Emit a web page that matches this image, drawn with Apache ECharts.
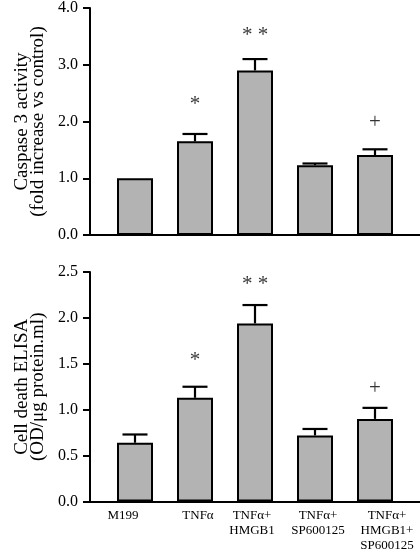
<!DOCTYPE html>
<html>
<head>
<meta charset="utf-8">
<script src="https://cdn.jsdelivr.net/npm/echarts@6/dist/echarts.min.js"></script>
<style>
html,body{margin:0;padding:0;background:#fff;}
#chart{width:420px;height:554px;}
</style>
</head>
<body>
<div id="chart"></div>
<script>
// ---- data ----
const categories = ['M199', 'TNFα', 'TNFα+\nHMGB1', 'TNFα+\nSP600125', 'TNFα+\nHMGB1+\nSP600125'];
const caspaseMean = [1.00, 1.65, 2.90, 1.23, 1.41];
const caspaseErr  = [0.00, 0.13, 0.20, 0.03, 0.10];
const caspaseSig  = ['', '*', '* *', '', '+'];
const caspaseSigY = [null, 2.30, 3.52, null, 1.98];
const elisaMean = [0.64, 1.13, 1.94, 0.72, 0.90];
const elisaErr  = [0.09, 0.12, 0.20, 0.07, 0.12];
const elisaSig  = ['', '*', '* *', '', '+'];
const elisaSigY = [null, 1.54, 2.36, null, 1.23];

const FONT = '"Liberation Serif", "Times New Roman", serif';
const chart = echarts.init(document.getElementById('chart'), null, {renderer: 'canvas'});
const labelPos = [-0.2, 1.05, 1.95, 3.05, 4.2];

function xAxisCfg(gridIndex, showLabels) {
  return {
    type: 'value', gridIndex, min: -0.75, max: 4.75,
    splitLine: {show: false},
    axisTick: {show: false},
    axisLine: {show: true, onZero: false, lineStyle: {color: '#000', width: 2}},
    axisLabel: {
      show: showLabels,
      customValues: labelPos,
      formatter: (v) => {
        const idx = labelPos.indexOf(v);
        return idx >= 0 ? categories[idx] : '';
      },
      fontFamily: FONT, fontSize: 13, color: '#000', lineHeight: 15,
      verticalAlign: 'top', margin: 7
    }
  };
}
function yAxisCfg(gridIndex, max, interval, name) {
  return {
    type: 'value', gridIndex, min: 0, max, interval,
    name, nameLocation: 'middle', nameRotate: 90, nameGap: 44,
    nameTextStyle: {fontFamily: FONT, fontSize: 19, color: '#000', lineHeight: 16},
    splitLine: {show: false},
    axisLine: {show: true, onZero: false, lineStyle: {color: '#000', width: 2}},
    axisTick: {show: true, inside: false, length: 7, lineStyle: {color: '#000', width: 2}},
    axisLabel: {fontFamily: FONT, fontSize: 16, color: '#000', margin: 12,
      formatter: (v) => v.toFixed(1)}
  };
}
function errSeries(xi, yi, means, errs) {
  return {
    type: 'custom', xAxisIndex: xi, yAxisIndex: yi, z: 5,
    data: means.map((m, i) => [i, m, errs[i]]),
    renderItem: (params, api) => {
      const x = api.value(0), m = api.value(1), e = api.value(2);
      if (!e) return null;
      const p1 = api.coord([x, m]);
      const p2 = api.coord([x, m + e]);
      const half = 12.5;
      const st = {stroke: '#000', lineWidth: 2.2};
      return {
        type: 'group',
        children: [
          {type: 'line', shape: {x1: p1[0], y1: p1[1], x2: p2[0], y2: p2[1]}, style: st},
          {type: 'line', shape: {x1: p2[0] - half, y1: p2[1], x2: p2[0] + half, y2: p2[1]}, style: st}
        ]
      };
    }
  };
}
function barSeries(xi, yi, means) {
  return {
    type: 'bar', xAxisIndex: xi, yAxisIndex: yi, barWidth: 36, z: 3,
    data: means.map((m, i) => [i, m]),
    itemStyle: {color: '#b3b3b3', borderColor: '#000', borderWidth: 2},
    emphasis: {disabled: true}
  };
}
function sigSeries(xi, yi, sig, sigY) {
  return {
    type: 'scatter', xAxisIndex: xi, yAxisIndex: yi, symbol: 'circle', symbolSize: 1, z: 6,
    itemStyle: {color: 'rgba(0,0,0,0)'},
    data: sig.map((s, i) => s ? {value: [i, sigY[i]], name: s} : null).filter(d => d),
    label: {show: true, position: 'inside', formatter: (p) => p.name,
      fontFamily: FONT, fontSize: 21, color: '#000'},
    silent: true
  };
}

chart.setOption({
  animation: false,
  backgroundColor: '#fff',
  grid: [
    {left: 90, right: 0, top: 5, height: 230},
    {left: 90, right: 0, top: 272, height: 229.5}
  ],
  xAxis: [xAxisCfg(0, false), xAxisCfg(1, true)],
  yAxis: [
    yAxisCfg(0, 4, 1, 'Caspase 3 activity\n(fold increase vs control)'),
    yAxisCfg(1, 2.5, 0.5, 'Cell death ELISA\n(OD/μg protein.ml)')
  ],
  series: [
    barSeries(0, 0, caspaseMean),
    errSeries(0, 0, caspaseMean, caspaseErr),
    sigSeries(0, 0, caspaseSig, caspaseSigY),
    barSeries(1, 1, elisaMean),
    errSeries(1, 1, elisaMean, elisaErr),
    sigSeries(1, 1, elisaSig, elisaSigY)
  ]
});
</script>
</body>
</html>
